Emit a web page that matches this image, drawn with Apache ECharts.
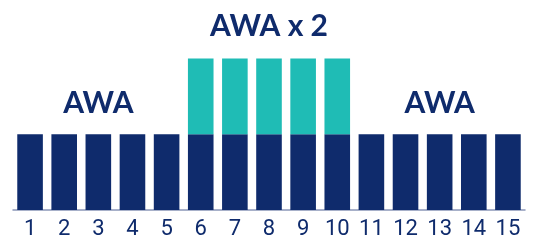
<!DOCTYPE html>
<html><head><meta charset="utf-8">
<script src="https://cdn.jsdelivr.net/npm/echarts@6/dist/echarts.min.js"></script>
<style>html,body{margin:0;padding:0;background:#fff}#c{width:535px;height:240px}</style>
</head><body><div id="c"></div>
<script>
const categories = ['1','2','3','4','5','6','7','8','9','10','11','12','13','14','15'];
const baseValues = [1,1,1,1,1,1,1,1,1,1,1,1,1,1,1];
const extraValues = [0,0,0,0,0,1,1,1,1,1,0,0,0,0,0];
const annotationCats = ['3','8','13'];
const annotationVals = [1.41,2.42,1.41];
const annotationText = ['AWA','AWA x 2','AWA'];

const navy = '#0f2b6c', teal = '#1fbcb5';
const chart = echarts.init(document.getElementById('c'), null, {renderer:'canvas'});
chart.setOption({
  animation:false,
  grid:{left:13,right:10,top:13,bottom:27.5,containLabel:false},
  xAxis:{type:'category',data:categories,
    axisLine:{lineStyle:{color:'#8a96b8',width:1.5}},
    axisTick:{show:false},
    axisLabel:{color:navy,fontSize:22,fontFamily:'Roboto',margin:8}},
  yAxis:{type:'value',min:0,max:2.6,show:false,splitLine:{show:false}},
  series:[
    {type:'bar',stack:'s',data:baseValues,barCategoryGap:'25%',itemStyle:{color:navy}},
    {type:'bar',stack:'s',data:extraValues,itemStyle:{color:teal},
     markPoint:{symbol:'circle',symbolSize:0,
       label:{show:true,position:'inside',color:navy,fontSize:30,fontWeight:'bold',fontFamily:'Lato',
         formatter:p=>p.name},
       data:annotationCats.map((c,i)=>({name:annotationText[i],coord:[c,annotationVals[i]]}))}}
  ]
});
</script></body></html>
